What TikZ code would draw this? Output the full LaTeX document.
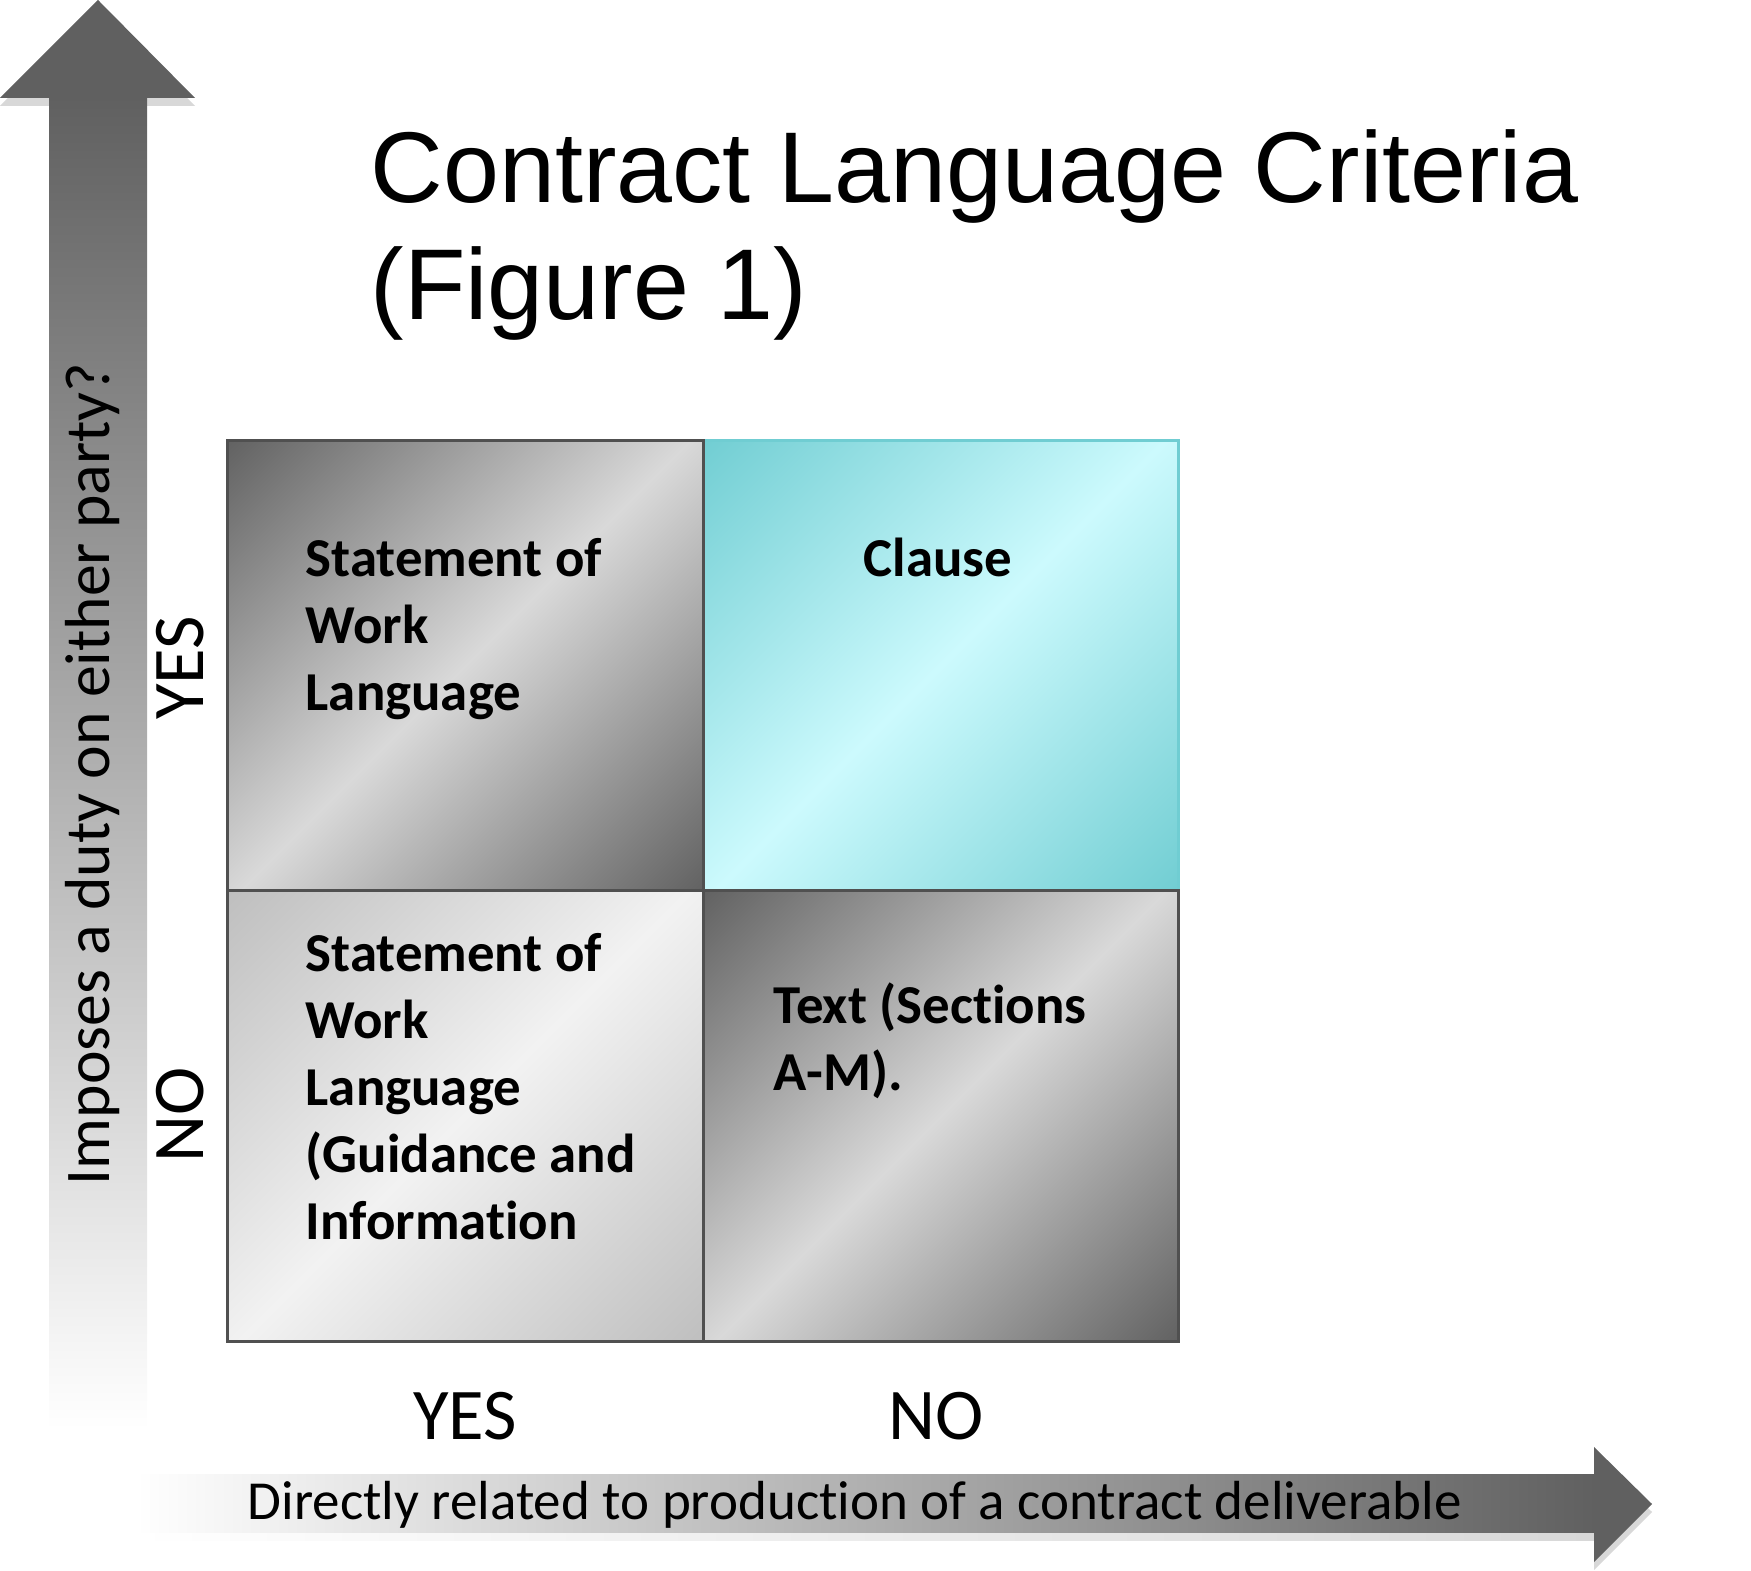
\documentclass[tikz,border=0pt]{standalone}
\usepackage{fontspec}
\setmainfont{Carlito}[Ligatures=NoCommon]
\newfontfamily\titlefont{Liberation Sans}
\usetikzlibrary{positioning}
\definecolor{cmgray}{RGB}{96,96,96}
\definecolor{cmlight}{RGB}{217,217,217}
\definecolor{cmpale}{RGB}{242,242,242}
\definecolor{cmmid}{RGB}{190,190,190}
\definecolor{cmteal}{RGB}{112,205,210}
\definecolor{cmcyan}{RGB}{204,250,253}
\definecolor{cmedge}{RGB}{80,80,80}
\definecolor{cmshadow}{RGB}{216,216,216}
\definecolor{cmhalf}{RGB}{200,200,200}
% corner to corner shadings for the cells
\pgfdeclareverticalshading{graycell}{100bp}{color(0bp)=(cmgray); color(14bp)=(cmgray); color(50bp)=(cmlight); color(86bp)=(cmgray); color(100bp)=(cmgray)}
\pgfdeclareverticalshading{palecell}{100bp}{color(0bp)=(cmmid); color(14bp)=(cmmid); color(50bp)=(cmpale); color(86bp)=(cmmid); color(100bp)=(cmmid)}
\pgfdeclareverticalshading{tealcell}{100bp}{color(0bp)=(cmteal); color(14bp)=(cmteal); color(50bp)=(cmcyan); color(86bp)=(cmteal); color(100bp)=(cmteal)}
\tikzstyle{darkbox} = [draw=cmedge, line width=0.03cm, shading=graycell, shading angle=45]
\tikzstyle{palebox} = [draw=cmedge, line width=0.03cm, shading=palecell, shading angle=45]
\tikzstyle{tealbox} = [draw=cmteal, line width=0.03cm, shading=tealcell, shading angle=45]
\tikzstyle{celltext} = [font=\fontsize{15.6}{19.06}\selectfont\bfseries, align=left, anchor=base west, inner sep=0]
\tikzstyle{axisword} = [font=\fontsize{20.7}{24}\selectfont, inner sep=0]
\tikzstyle{axislabel} = [font=\fontsize{15.65}{19}\selectfont, inner sep=0, anchor=base west]

\begin{document}
\begin{tikzpicture}[x=0.01cm, y=-0.01cm]
\useasboundingbox (0,0) rectangle (1751,1571);

% vertical arrow
\fill[cmshadow] (0,106) -- (98,8) -- (195,106) -- cycle;
\shade[top color=cmgray, middle color=cmhalf, bottom color=white] (49,96) rectangle (147,1430);
\fill[cmgray] (0,98) -- (98,0) -- (195,98) -- cycle;

% horizontal arrow
\shade[left color=white, right color=cmshadow] (136,1483) rectangle (1594,1541);
\shade[left color=white, middle color=cmhalf, right color=cmgray] (136,1475) rectangle (1596,1533);
\fill[cmshadow] (1594,1455) -- (1652,1512) -- (1594,1570) -- cycle;
\fill[cmgray] (1594,1447) -- (1652,1504) -- (1594,1562) -- cycle;

% base of a multi-line node is its last line
\node (title) [font=\titlefont\fontsize{28.6}{33.3}\selectfont, align=left, anchor=base west, inner sep=0] at (370,320) {Contract Language Criteria\\(Figure 1)};

% the four cells
\path[tealbox] (703,441) rectangle (1178,891);
\path[darkbox] (227,441) rectangle (703,891);
\path[palebox] (227,891) rectangle (703,1342);
\path[darkbox] (703,891) rectangle (1178,1342);

\node (sowyes) [celltext] at (305,711) {Statement of\\Work\\Language};
\node (clause) [celltext, anchor=base] at (938,577) {Clause};
\node (sowno) [celltext] at (305,1240) {Statement of\\Work\\Language\\(Guidance and\\Information};
\node (textam) [celltext] at (773,1091) {Text (Sections\\A-M).};

% axis words
\node (yesleft) [axisword, rotate=90] at (180,668) {YES};
\node (noleft) [axisword, rotate=90] at (180,1115) {NO};
\node (yesbottom) [axisword] at (465,1416) {YES};
\node (nobottom) [axisword] at (936,1416) {NO};

\node (duty) [axislabel, font=\fontsize{18.1}{22}\selectfont, rotate=90] at (109,1186) {Imposes a duty on either party?};
\node (deliverable) [axislabel] at (247,1520) {Directly related to production of a contract deliverable};
\end{tikzpicture}
\end{document}
